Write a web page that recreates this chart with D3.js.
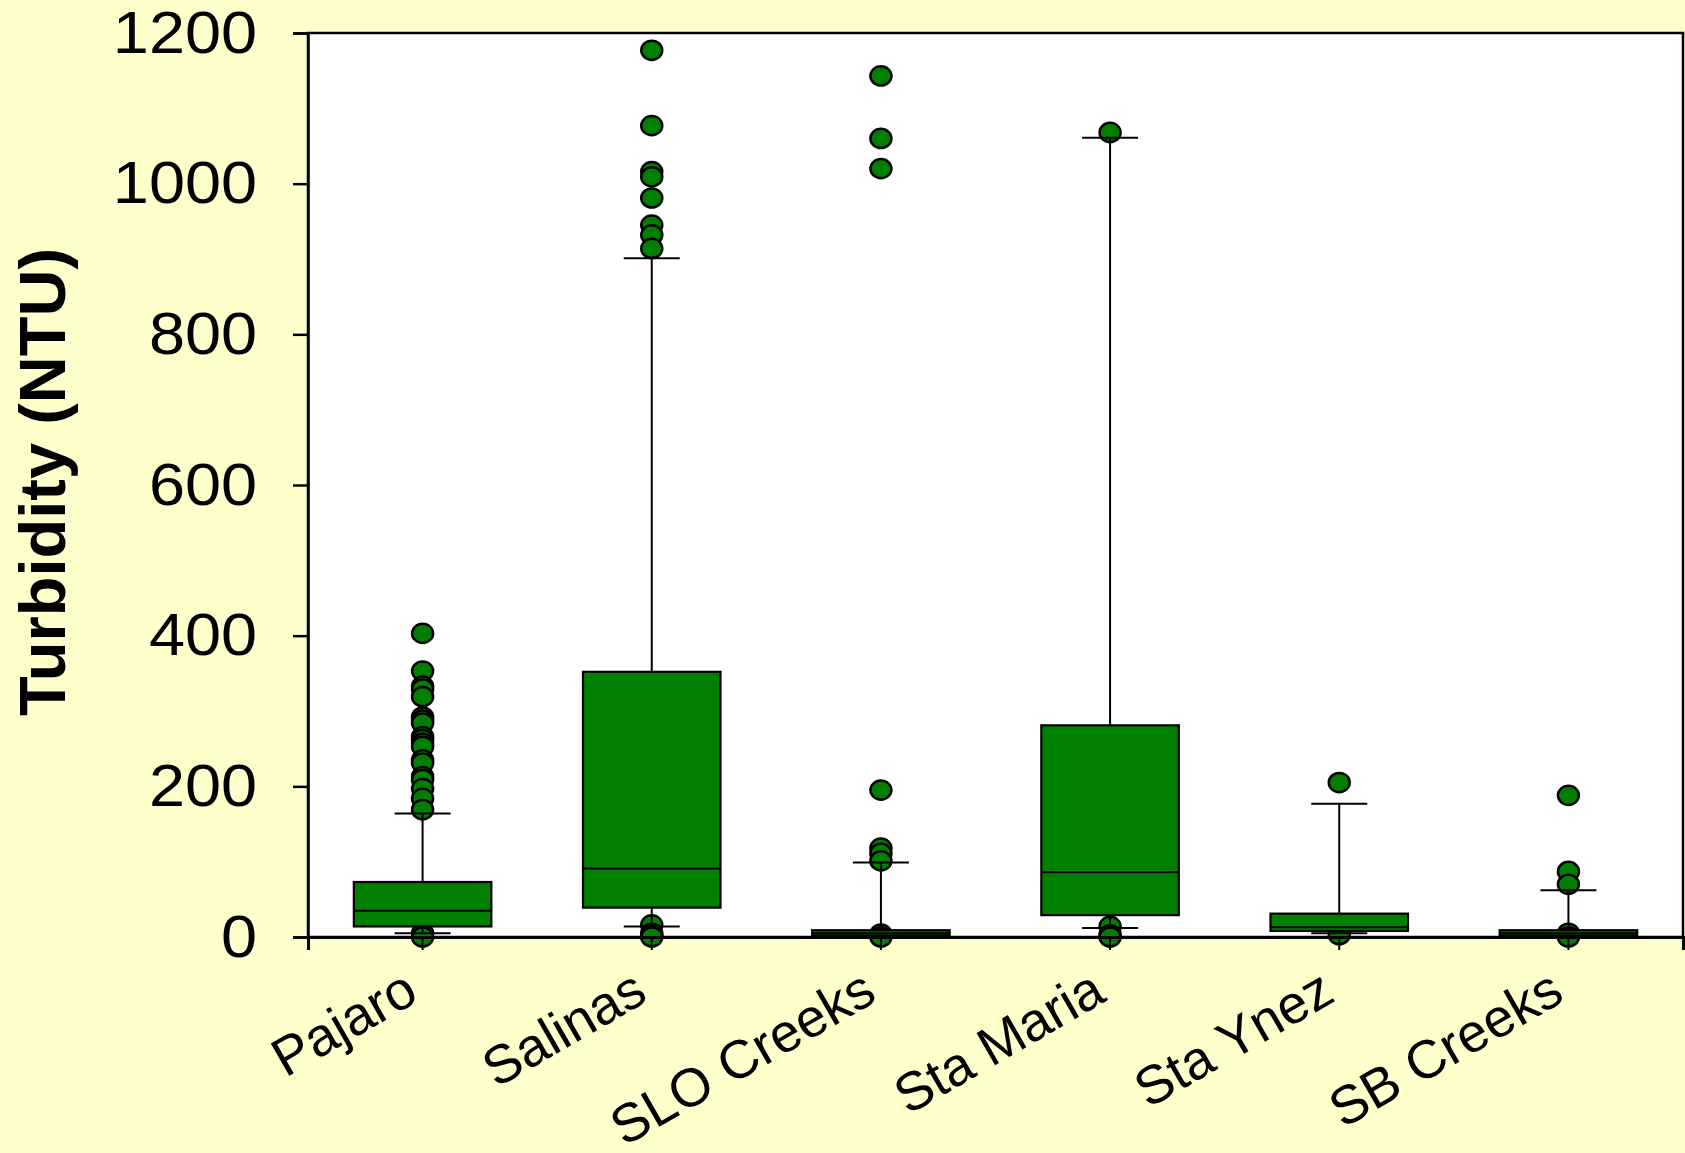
<!DOCTYPE html>
<html>
<head>
<meta charset="utf-8">
<script src="https://cdn.jsdelivr.net/npm/d3@7"></script>
<style>
  html, body { margin: 0; padding: 0; background: #FFFFCC; }
  svg { display: block; }
  text { font-family: "Liberation Sans", Arial, sans-serif; fill: #000; }
</style>
</head>
<body>
<svg id="chart" width="1685" height="1153"></svg>
<script>
// River groups and their turbidity box-plot statistics (NTU)
const categories = ["Pajaro", "Salinas", "SLO Creeks", "Sta Maria", "Sta Ynez", "SB Creeks"];
const lowerWhisker = [5, 14, 1, 12, 5, 1];
const quartile1    = [14, 39, 2, 29, 8, 2];
const medians      = [35, 91, 5, 86, 13, 5];
const quartile3    = [73, 352, 9, 281, 31, 9];
const upperWhisker = [164, 901, 99, 1061, 177, 62];
const outliers = [
  [403, 353, 333, 329, 319, 292, 288, 284, 266, 262, 257, 253, 235, 231, 213, 209, 197, 184, 169, 5, 0],
  [1177, 1077, 1016, 1009, 981, 945, 932, 914, 16, 5, 2, 0],
  [1143, 1060, 1020, 195, 118, 111, 101, 4, 0],
  [1068, 14, 3, 0],
  [205, 3],
  [188, 87, 70, 5, 0]
];
const yTicks = [0, 200, 400, 600, 800, 1000, 1200];
const yTitle = "Turbidity (NTU)";

const svg = d3.select("#chart");
const plotLeft = 308, plotRight = 1683, plotTop = 33, plotBottom = 937;
const green = "#007F00";

const x = d3.scaleBand().domain(categories).range([plotLeft, plotRight]);
const y = d3.scaleLinear().domain([0, 1200]).range([plotBottom, plotTop]);

const boxW = x.bandwidth() * 0.6;
const capW = 56;

// plot area
svg.append("rect")
  .attr("x", plotLeft).attr("y", plotTop)
  .attr("width", plotRight - plotLeft).attr("height", plotBottom - plotTop)
  .attr("fill", "#fff").attr("stroke", "#000").attr("stroke-width", 2.5);

const stats = categories.map((c, i) => ({
  name: c, lo: lowerWhisker[i], q1: quartile1[i], med: medians[i],
  q3: quartile3[i], hi: upperWhisker[i], out: outliers[i]
}));

const g = svg.append("g");

// outlying points
stats.forEach(s => {
  const cx = x(s.name) + x.bandwidth() / 2;
  g.selectAll(null).data(s.out).enter().append("ellipse")
    .attr("cx", cx).attr("cy", d => y(d))
    .attr("rx", 10.5).attr("ry", 9.6)
    .attr("fill", green).attr("stroke", "#000").attr("stroke-width", 2.5);
});

// whiskers, caps, boxes, medians
const groups = g.selectAll("g.box").data(stats).enter().append("g").attr("class", "box")
  .attr("transform", d => `translate(${x(d.name) + x.bandwidth() / 2},0)`);

groups.append("line")
  .attr("x1", 0).attr("x2", 0).attr("y1", d => y(d.q3)).attr("y2", d => y(d.hi))
  .attr("stroke", "#000").attr("stroke-width", 2);
groups.append("line")
  .attr("x1", 0).attr("x2", 0).attr("y1", d => y(d.q1)).attr("y2", d => y(d.lo))
  .attr("stroke", "#000").attr("stroke-width", 2);
groups.append("line")
  .attr("x1", -capW / 2).attr("x2", capW / 2).attr("y1", d => y(d.hi)).attr("y2", d => y(d.hi))
  .attr("stroke", "#000").attr("stroke-width", 2);
groups.append("line")
  .attr("x1", -capW / 2).attr("x2", capW / 2).attr("y1", d => y(d.lo)).attr("y2", d => y(d.lo))
  .attr("stroke", "#000").attr("stroke-width", 2);
groups.append("rect")
  .attr("x", -boxW / 2).attr("width", boxW)
  .attr("y", d => y(d.q3)).attr("height", d => y(d.q1) - y(d.q3))
  .attr("fill", green).attr("stroke", "#000").attr("stroke-width", 2.2);
groups.append("line")
  .attr("x1", -boxW / 2).attr("x2", boxW / 2).attr("y1", d => y(d.med)).attr("y2", d => y(d.med))
  .attr("stroke", "#000").attr("stroke-width", 2);

// y axis (tick labels slightly widened)
const labelStretch = 1.08;
const yAxis = svg.append("g").attr("transform", `translate(${plotLeft},0)`)
  .call(d3.axisLeft(y).tickValues(yTicks).tickSize(15).tickPadding(36).tickFormat(d3.format("d")));
yAxis.select(".domain").attr("stroke", "#000").attr("stroke-width", 2.5);
yAxis.selectAll(".tick line").attr("stroke", "#000").attr("stroke-width", 2.5);
yAxis.selectAll(".tick text")
  .attr("x", -51 / labelStretch)
  .attr("transform", `scale(${labelStretch},1)`)
  .style("font-family", "'Liberation Sans', Arial, sans-serif")
  .style("font-size", "60px").attr("fill", "#000");

// x axis
const xAxis = svg.append("g").attr("transform", `translate(0,${plotBottom})`)
  .call(d3.axisBottom(x).tickSize(13).tickFormat(""));
xAxis.select(".domain").attr("stroke", "#000").attr("stroke-width", 3);
xAxis.selectAll(".tick line").attr("stroke", "#000").attr("stroke-width", 2);

// slanted category labels
svg.append("g").selectAll("text").data(categories).enter().append("text")
  .attr("transform", d => `translate(${x(d) + x.bandwidth() / 2 - 2},1000) rotate(-30)`)
  .attr("text-anchor", "end")
  .style("font-size", "54px")
  .text(d => d);

// y axis title
svg.append("text")
  .attr("transform", "translate(65,482) rotate(-90)")
  .attr("text-anchor", "middle")
  .style("font-size", "65px").style("font-weight", "bold")
  .text(yTitle);
</script>
</body>
</html>
